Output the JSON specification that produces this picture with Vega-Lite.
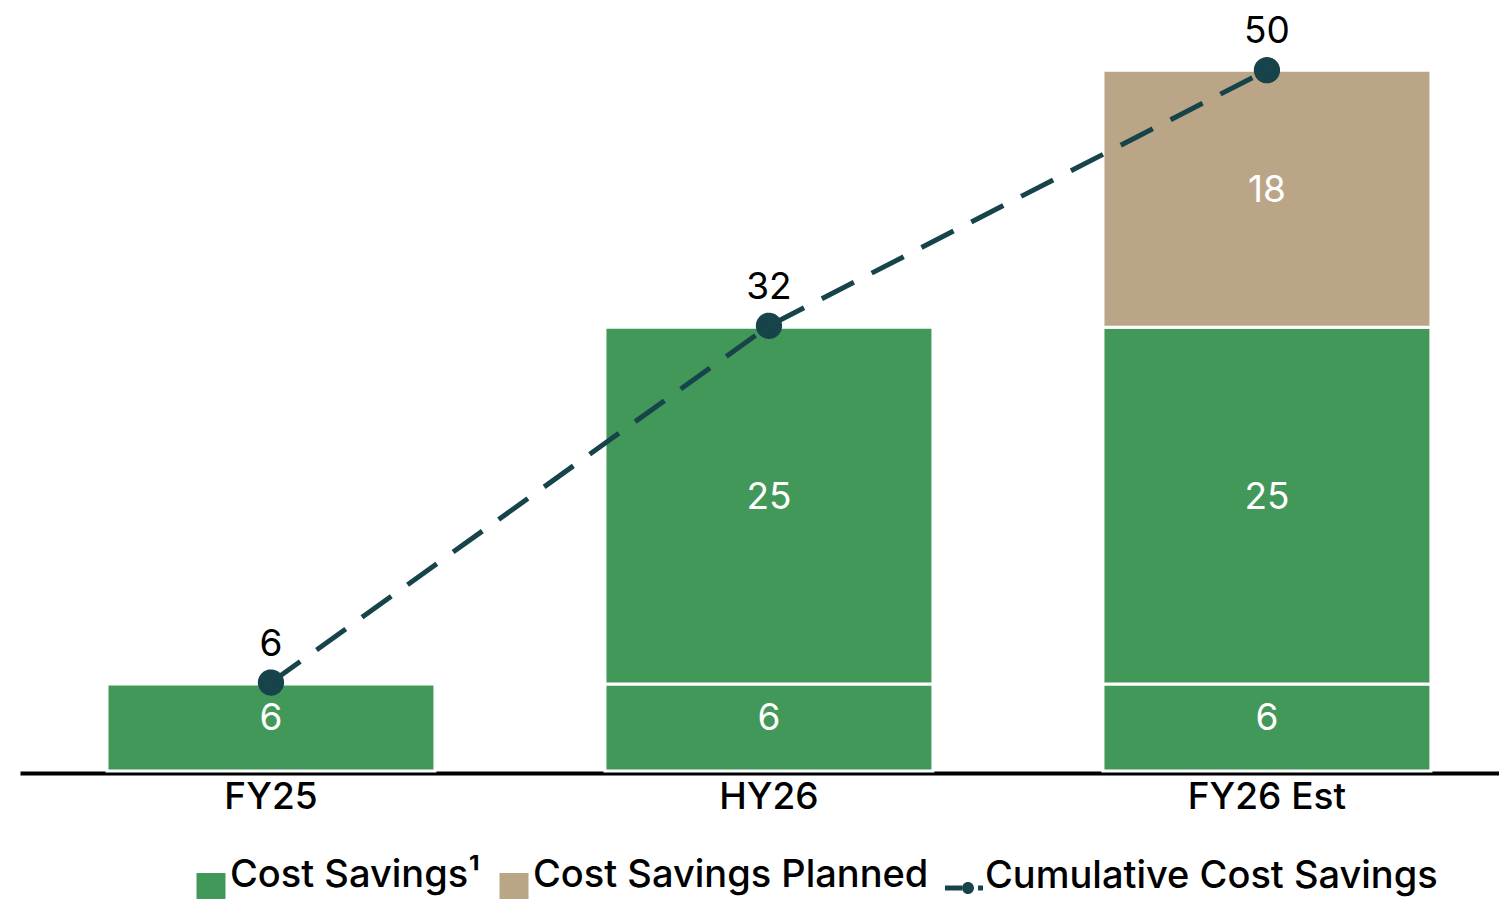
{
  "$schema": "https://vega.github.io/schema/vega-lite/v6.json",
  "width": 1479,
  "height": 771,
  "autosize": {"type": "none"},
  "padding": {"left": 20, "top": 0, "right": 0, "bottom": 128},
  "config": {"view": {"stroke": null}, "font": "Inter"},
  "datasets": {
    "bars": [
      {"period": "FY25", "series": "Cost Savings¹", "segment": 1, "value": 6.2},
      {"period": "HY26", "series": "Cost Savings¹", "segment": 1, "value": 6.2},
      {"period": "HY26", "series": "Cost Savings¹", "segment": 2, "value": 25.4},
      {"period": "FY26 Est", "series": "Cost Savings¹", "segment": 1, "value": 6.2},
      {"period": "FY26 Est", "series": "Cost Savings¹", "segment": 2, "value": 25.4},
      {"period": "FY26 Est", "series": "Cost Savings Planned", "segment": 3, "value": 18.3}
    ],
    "cumulative": [
      {"period": "FY25", "series": "Cumulative Cost Savings", "total": 6.3},
      {"period": "HY26", "series": "Cumulative Cost Savings", "total": 31.7},
      {"period": "FY26 Est", "series": "Cumulative Cost Savings", "total": 49.9}
    ]
  },
  "encoding": {
    "x": {
      "field": "period",
      "type": "nominal",
      "sort": ["FY25", "HY26", "FY26 Est"],
      "scale": {"paddingInner": 0.3414, "paddingOuter": 0.1557, "align": 0.561},
      "axis": {
        "title": null,
        "ticks": false,
        "domainColor": "#000000",
        "domainWidth": 4,
        "offset": 2,
        "labelFontSize": 37,
        "labelFontWeight": 500,
        "labelColor": "#000000",
        "labelAngle": 0,
        "labelBaseline": "alphabetic",
        "labelPadding": 35,
        "labelFont": "Inter"
      }
    }
  },
  "layer": [
    {
      "data": {"name": "bars"},
      "transform": [
        {"stack": "value", "groupby": ["period"], "sort": [{"field": "segment"}], "as": ["v0", "v1"]}
      ],
      "layer": [
        {
          "mark": {"type": "bar", "stroke": "#ffffff", "strokeWidth": 3},
          "encoding": {
            "y": {"field": "v1", "type": "quantitative", "scale": {"domain": [0, 54.9], "nice": false}, "axis": null},
            "y2": {"field": "v0"},
            "color": {
              "field": "series",
              "type": "nominal",
              "scale": {
                "domain": ["Cost Savings¹", "Cost Savings Planned"],
                "range": ["#429858", "#BBA587"]
              },
              "legend": {
                "title": null,
                "orient": "none",
                "legendX": 172,
                "legendY": 868,
                "direction": "horizontal",
                "symbolType": "square",
                "symbolSize": 930,
                "labelFontSize": 38,
                "labelFontWeight": 500,
                "labelFont": "Inter",
                "labelColor": "#000000",
                "labelBaseline": "alphabetic",
                "labelOffset": 0,
                "columnPadding": 14,
                "labelLimit": 800,
                "padding": 0
              }
            }
          }
        },
        {
          "transform": [{"calculate": "(datum.v0 + datum.v1) / 2", "as": "vmid"}],
          "mark": {"type": "text", "color": "#ffffff", "fontSize": 37, "font": "Inter", "baseline": "middle", "dy": -8},
          "encoding": {
            "y": {"field": "vmid", "type": "quantitative"},
            "text": {"field": "value", "type": "quantitative", "format": ".0f"}
          }
        }
      ]
    },
    {
      "data": {"name": "cumulative"},
      "layer": [
        {
          "mark": {"type": "line", "color": "#17444A", "strokeWidth": 5, "strokeDash": [36, 20]},
          "encoding": {"y": {"field": "total", "type": "quantitative"}}
        },
        {
          "mark": {"type": "point", "shape": "circle", "filled": true, "opacity": 1, "fill": "#17444A", "stroke": "#17444A", "strokeWidth": 5, "size": 452},
          "encoding": {
            "y": {"field": "total", "type": "quantitative"},
            "strokeDash": {
              "field": "series",
              "type": "nominal",
              "scale": {"domain": ["Cumulative Cost Savings"], "range": [[1, 0]]},
              "legend": {
                "title": null,
                "orient": "none",
                "legendX": 924,
                "legendY": 868,
                "direction": "horizontal",
                "symbolType": "M-0.95,-0.125H-0.1V0.125H-0.95Z M0.7,-0.125H0.95V0.125H0.7Z M-0.1,0A0.3,0.3 0 1,0 0.5,0A0.3,0.3 0 1,0 -0.1,0Z",
                "symbolSize": 1600,
                "symbolStrokeWidth": 0,
                "symbolFillColor": "#17444A",
                "labelFontSize": 38,
                "labelFontWeight": 500,
                "labelFont": "Inter",
                "labelColor": "#000000",
                "labelBaseline": "alphabetic",
                "labelOffset": 1,
                "labelLimit": 800,
                "padding": 0
              }
            }
          }
        },
        {
          "mark": {"type": "text", "color": "#000000", "fontSize": 37, "font": "Inter", "baseline": "alphabetic", "dy": -27},
          "encoding": {
            "y": {"field": "total", "type": "quantitative"},
            "text": {"field": "total", "type": "quantitative", "format": ".0f"}
          }
        }
      ]
    }
  ]
}
